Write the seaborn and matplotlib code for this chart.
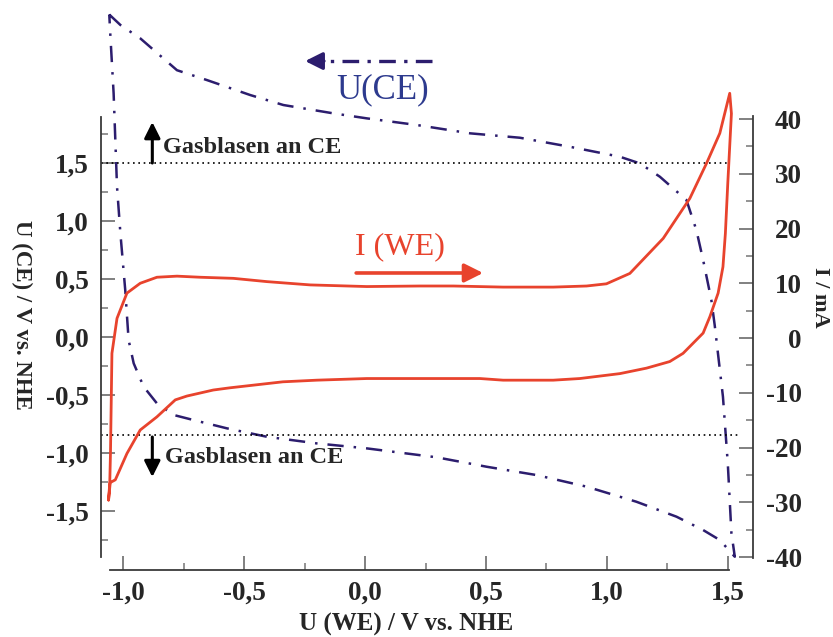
import numpy as np
import pandas as pd
import matplotlib
matplotlib.use("Agg")
import matplotlib.pyplot as plt
from matplotlib.ticker import FixedLocator, FuncFormatter
import seaborn as sns

# Strom I(WE) in mA, Zyklus beginnt unten links
u_we_i = [-1.061, -1.056, -1.053, -1.050, -1.047, -1.026, -0.985, -0.930, -0.861,
          -0.778, -0.682, -0.545, -0.406, -0.227, 0.007, 0.227, 0.365, 0.571,
          0.778, 0.916, 0.998, 1.095, 1.233, 1.343, 1.412, 1.467, 1.508,
          1.515, 1.500, 1.490, 1.480, 1.460, 1.426, 1.398, 1.315, 1.260, 1.164,
          1.054, 0.888, 0.778, 0.571, 0.475, 0.365, 0.227, 0.007, -0.200,
          -0.340, -0.560, -0.628, -0.737, -0.785, -0.861, -0.930, -0.985,
          -1.033, -1.054, -1.061]
i_we = [-29.6, -26.5, -21.0, -11.9, -2.8, 3.6, 8.2, 10.0, 11.1,
        11.3, 11.1, 10.9, 10.3, 9.7, 9.4, 9.5, 9.5, 9.3,
        9.3, 9.5, 9.9, 11.8, 18.2, 25.5, 31.9, 37.4, 44.7,
        41.0, 28.3, 19.1, 13.0, 8.2, 3.9, 0.9, -2.8, -4.3, -5.5,
        -6.5, -7.4, -7.7, -7.7, -7.4, -7.4, -7.4, -7.4, -7.7,
        -8.0, -9.1, -9.5, -10.6, -11.3, -14.4, -16.8, -21.1,
        -25.9, -26.4, -29.6]

# Spannung der Gegenelektrode U(CE) in V
u_we_ce = [-1.058, -1.012, -0.930, -0.778, -0.654, -0.475, -0.338, -0.131, 0.007,
           0.213, 0.434, 0.640, 0.847, 1.054, 1.136, 1.219, 1.329, 1.370, 1.398,
           1.432, 1.446, 1.480, 1.500, 1.515, 1.529, 1.467, 1.398, 1.288, 1.122,
           0.916, 0.709, 0.502, 0.296, 0.007, -0.200, -0.406, -0.572, -0.709,
           -0.792, -0.861, -0.916, -0.957, -0.978, -0.992, -1.012, -1.026,
           -1.033, -1.040, -1.054, -1.058]
u_ce = [2.78, 2.69, 2.575, 2.30, 2.215, 2.086, 2.00, 1.928, 1.885,
        1.828, 1.756, 1.718, 1.640, 1.554, 1.497, 1.382, 1.181, 0.922, 0.664,
        0.319, 0.10, -0.515, -1.09, -1.69, -1.894, -1.75, -1.664, -1.549, -1.42,
        -1.29, -1.19, -1.118, -1.037, -0.96, -0.917, -0.86, -0.787, -0.716,
        -0.672, -0.572, -0.428, -0.227, -0.026, 0.405, 0.894, 1.296,
        1.698, 2.10, 2.618, 2.78]

x_ticks = [-1.0, -0.5, 0.0, 0.5, 1.0, 1.5]
y_ticks_left = [-1.5, -1.0, -0.5, 0.0, 0.5, 1.0, 1.5]
y_ticks_right = [-40, -30, -20, -10, 0, 10, 20, 30, 40]
gas_limits = [1.5, -0.845]   # V, gepunktete Linien

rot = "#E8432D"
indigo = "#2C1D6E"
blau = "#2D3A8E"

df_i = pd.DataFrame({"U_WE": u_we_i, "I": i_we})
df_u = pd.DataFrame({"U_WE": u_we_ce, "U_CE": u_ce})

sns.set_theme(style="white")
plt.rcParams["font.family"] = ["Liberation Serif", "DejaVu Serif"]

fig = plt.figure(figsize=(8.33, 6.37), dpi=100)
ax = fig.add_axes([110 / 833, 79 / 637, 619 / 833, 551 / 637])
ax2 = ax.twinx()

dashdot = (0, (6.5, 4, 1, 4))
sns.lineplot(data=df_u, x="U_WE", y="U_CE", sort=False, estimator=None, ax=ax,
             color=indigo, linewidth=1.8, linestyle=dashdot, clip_on=False)
sns.lineplot(data=df_i, x="U_WE", y="I", sort=False, estimator=None, ax=ax2,
             color=rot, linewidth=2.0, clip_on=False)

ax.set_xlim(-1.055, 1.505)
ax.set_ylim(-1.905, 2.845)
ax2.set_ylim(-40.18, 60.46)

# gepunktete Grenzlinien
ax.plot([-1.091, 1.504], [gas_limits[0]] * 2, color="black", ls=(0, (1, 2.2)),
        lw=1.2, clip_on=False)
ax.plot([-1.091, 1.541], [gas_limits[1]] * 2, color="black", ls=(0, (1, 2.2)),
        lw=1.2, clip_on=False)

# Achsen / Spines (outward in pt)
for s in ["top", "right"]:
    ax.spines[s].set_visible(False)
for s in ["top", "left", "bottom"]:
    ax2.spines[s].set_visible(False)
ax.spines["left"].set_position(("outward", 6.5))
ax.spines["left"].set_bounds(-1.9, 1.9)
ax.spines["bottom"].set_position(("outward", 8.6))
ax2.spines["right"].set_position(("outward", 17.3))
ax2.spines["right"].set_bounds(-40.2, 40.6)
for sp in [ax.spines["left"], ax.spines["bottom"], ax2.spines["right"]]:
    sp.set_color("#3a3a3a")
    sp.set_linewidth(1.3)

fmt = FuncFormatter(lambda v, p: f"{v:.1f}".replace(".", ","))
ax.xaxis.set_major_locator(FixedLocator(x_ticks))
ax.xaxis.set_minor_locator(FixedLocator([-0.75, -0.25, 0.25, 0.75, 1.25]))
ax.xaxis.set_major_formatter(fmt)
ax.yaxis.set_major_locator(FixedLocator(y_ticks_left))
ax.yaxis.set_minor_locator(FixedLocator([-1.75, -1.25, -0.75, -0.25, 0.25, 0.75, 1.25, 1.75]))
ax.yaxis.set_major_formatter(fmt)
ax2.yaxis.set_major_locator(FixedLocator(y_ticks_right))
ax2.yaxis.set_minor_locator(FixedLocator([-35, -25, -15, -5, 5, 15, 25, 35]))
ax2.yaxis.set_major_formatter(FuncFormatter(lambda v, p: f"{v:.0f}"))

ax.tick_params(axis="both", which="major", direction="in", length=10, width=1.4,
               color="#808080", labelsize=19.5)
ax.tick_params(axis="both", which="minor", direction="in", length=5, width=1.2,
               color="#808080")
ax.tick_params(axis="y", which="both", left=True, right=False, pad=9)
ax.tick_params(axis="x", which="both", bottom=True, top=False, pad=8)
ax2.tick_params(axis="y", which="major", direction="in", length=10, width=1.4,
                color="#808080", labelsize=19.5, pad=35, right=True)
ax2.tick_params(axis="y", which="minor", direction="in", length=5, width=1.2,
                color="#808080", right=True)
for lab in ax.get_xticklabels() + ax.get_yticklabels() + ax2.get_yticklabels():
    lab.set_fontweight("bold")
plt.setp(ax2.get_yticklabels(), ha="right")

ax.set_xlabel("")
ax.set_ylabel("")
ax2.set_ylabel("")

fig.text(406 / 833, 1 - 624 / 637, "U (WE) / V vs. NHE", ha="center", va="center",
         fontsize=18, fontweight="bold")
fig.text(22 / 833, 1 - 315 / 637, "U (CE) / V vs. NHE", ha="center", va="center",
         rotation=270, fontsize=16.5, fontweight="bold")
fig.text(820 / 833, 1 - 297 / 637, "I / mA", ha="center", va="center",
         rotation=270, fontsize=16, fontweight="bold")

# Gasblasen-Hinweise
ax.annotate("", xy=(-0.880, 1.853), xytext=(-0.880, 1.5),
            arrowprops=dict(arrowstyle="-|>", color="black", lw=2.2,
                            mutation_scale=24, shrinkA=0, shrinkB=0))
ax.text(-0.835, 1.638, "Gasblasen an CE", fontsize=17.5, fontweight="bold",
        va="center", ha="left")
ax.annotate("", xy=(-0.880, -1.207), xytext=(-0.880, -0.862),
            arrowprops=dict(arrowstyle="-|>", color="black", lw=2.2,
                            mutation_scale=24, shrinkA=0, shrinkB=0))
ax.text(-0.826, -1.036, "Gasblasen an CE", fontsize=17.5, fontweight="bold",
        va="center", ha="left")

# Beschriftung U(CE) mit Pfeil
ax.plot([0.277, -0.17], [2.379, 2.379], color=indigo, lw=2.4, ls=(0, (5, 2.5, 1, 2.5)),
        clip_on=False)
ax.annotate("", xy=(-0.248, 2.379), xytext=(-0.17, 2.379),
            arrowprops=dict(arrowstyle="-|>", color=indigo, lw=2.4,
                            mutation_scale=26, shrinkA=0, shrinkB=0))
ax.text(0.074, 2.13, "U(CE)", color=blau, fontsize=25, ha="center", va="center")

# Beschriftung I (WE) mit Pfeil
ax.text(0.145, 0.776, "I (WE)", color=rot, fontsize=23, ha="center", va="center")
ax.annotate("", xy=(0.488, 0.552), xytext=(-0.037, 0.552),
            arrowprops=dict(arrowstyle="-|>", color=rot, lw=2.6,
                            mutation_scale=28, shrinkA=0, shrinkB=0))

fig.savefig("out.png", dpi=100)
